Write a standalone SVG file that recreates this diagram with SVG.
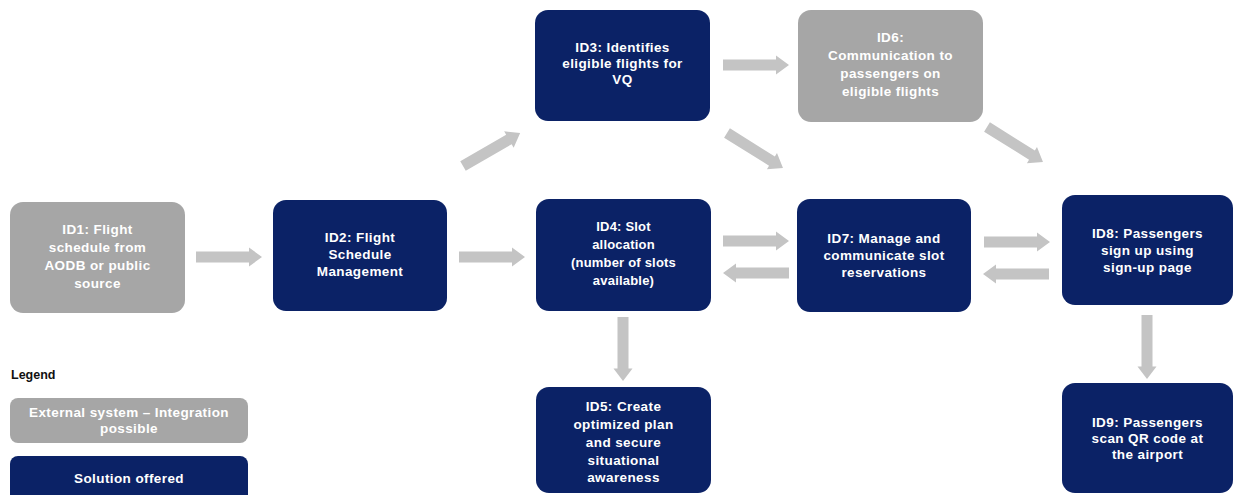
<svg xmlns="http://www.w3.org/2000/svg" width="1234" height="495" viewBox="0 0 1234 495">
<style>
.sol{fill:#0b2266}
.ext{fill:#a6a6a6}
.t{font-family:"Liberation Sans",Arial,sans-serif;font-weight:bold;font-size:13.5px;letter-spacing:0.4px;fill:#ffffff;text-anchor:middle}
.s{font-size:13px;letter-spacing:0.2px}
.lg{font-family:"Liberation Sans",Arial,sans-serif;font-weight:bold;font-size:12.5px;fill:#111111}
.arr{fill:#c4c4c4}
</style>
<defs>
<path id="ah" class="arr" d="M0,-5.5 H53 V-9.5 L66,0 L53,9.5 V5.5 H0 Z"/>
</defs>
<rect width="1234" height="495" fill="#ffffff"/>
<g id="connectors">
<use href="#ah" transform="translate(196,257)"/>
<use href="#ah" transform="translate(459,257)"/>
<use href="#ah" transform="translate(463,166) rotate(-30)"/>
<use href="#ah" transform="translate(727,133) rotate(32)"/>
<use href="#ah" transform="translate(987,127) rotate(32)"/>
<use href="#ah" transform="translate(723,65)"/>
<use href="#ah" transform="translate(723,241)"/>
<use href="#ah" transform="translate(789,273) rotate(180)"/>
<use href="#ah" transform="translate(984,242)"/>
<use href="#ah" transform="translate(1049,274) rotate(180)"/>
<use href="#ah" transform="translate(623,317) rotate(90) scale(0.97,1)"/>
<use href="#ah" transform="translate(1147,315) rotate(90) scale(0.97,1)"/>
</g>
<g id="ID1">
<rect class="ext" x="10" y="202" width="175" height="111" rx="13"/>
<text class="t" x="97.5" y="234">ID1: Flight</text>
<text class="t" x="97.5" y="252">schedule from</text>
<text class="t" x="97.5" y="270">AODB or public</text>
<text class="t" x="97.5" y="288">source</text>
</g>
<g id="ID2">
<rect class="sol" x="273" y="200" width="174" height="111" rx="13"/>
<text class="t" x="360" y="242">ID2: Flight</text>
<text class="t" x="360" y="259">Schedule</text>
<text class="t" x="360" y="276">Management</text>
</g>
<g id="ID3">
<rect class="sol" x="535" y="10" width="175" height="111" rx="13"/>
<text class="t" x="622.5" y="52">ID3: Identifies</text>
<text class="t" x="622.5" y="68">eligible flights for</text>
<text class="t" x="622.5" y="84">VQ</text>
</g>
<g id="ID6">
<rect class="ext" x="798" y="10" width="185" height="112" rx="13"/>
<text class="t" x="890.5" y="42">ID6:</text>
<text class="t" x="890.5" y="60">Communication to</text>
<text class="t" x="890.5" y="78">passengers on</text>
<text class="t" x="890.5" y="96">eligible flights</text>
</g>
<g id="ID4">
<rect class="sol" x="536" y="199" width="175" height="112" rx="13"/>
<text class="t s" x="623.5" y="231">ID4: Slot</text>
<text class="t s" x="623.5" y="249">allocation</text>
<text class="t s" x="623.5" y="267">(number of slots</text>
<text class="t s" x="623.5" y="285">available)</text>
</g>
<g id="ID5">
<rect class="sol" x="536" y="387" width="175" height="106" rx="13"/>
<text class="t" x="623.5" y="411">ID5: Create</text>
<text class="t" x="623.5" y="429">optimized plan</text>
<text class="t" x="623.5" y="447">and secure</text>
<text class="t" x="623.5" y="465">situational</text>
<text class="t" x="623.5" y="482">awareness</text>
</g>
<g id="ID7">
<rect class="sol" x="797" y="199" width="174" height="113" rx="13"/>
<text class="t" x="884" y="243">ID7: Manage and</text>
<text class="t" x="884" y="260">communicate slot</text>
<text class="t" x="884" y="277">reservations</text>
</g>
<g id="ID8">
<rect class="sol" x="1062" y="195" width="171" height="110" rx="13"/>
<text class="t" x="1147.5" y="238">ID8: Passengers</text>
<text class="t" x="1147.5" y="255">sign up using</text>
<text class="t" x="1147.5" y="272">sign-up page</text>
</g>
<g id="ID9">
<rect class="sol" x="1062" y="383" width="171" height="110" rx="13"/>
<text class="t" x="1147.5" y="427">ID9: Passengers</text>
<text class="t" x="1147.5" y="443">scan QR code at</text>
<text class="t" x="1147.5" y="459">the airport</text>
</g>
<g id="legend">
<text class="lg" x="11" y="379">Legend</text>
<rect class="ext" x="10" y="398" width="238" height="45" rx="8"/>
<text class="t" x="129" y="417">External system – Integration</text>
<text class="t" x="129" y="433">possible</text>
<rect class="sol" x="10" y="456" width="238" height="50" rx="8"/>
<text class="t" x="129" y="483">Solution offered</text>
</g>
</svg>
